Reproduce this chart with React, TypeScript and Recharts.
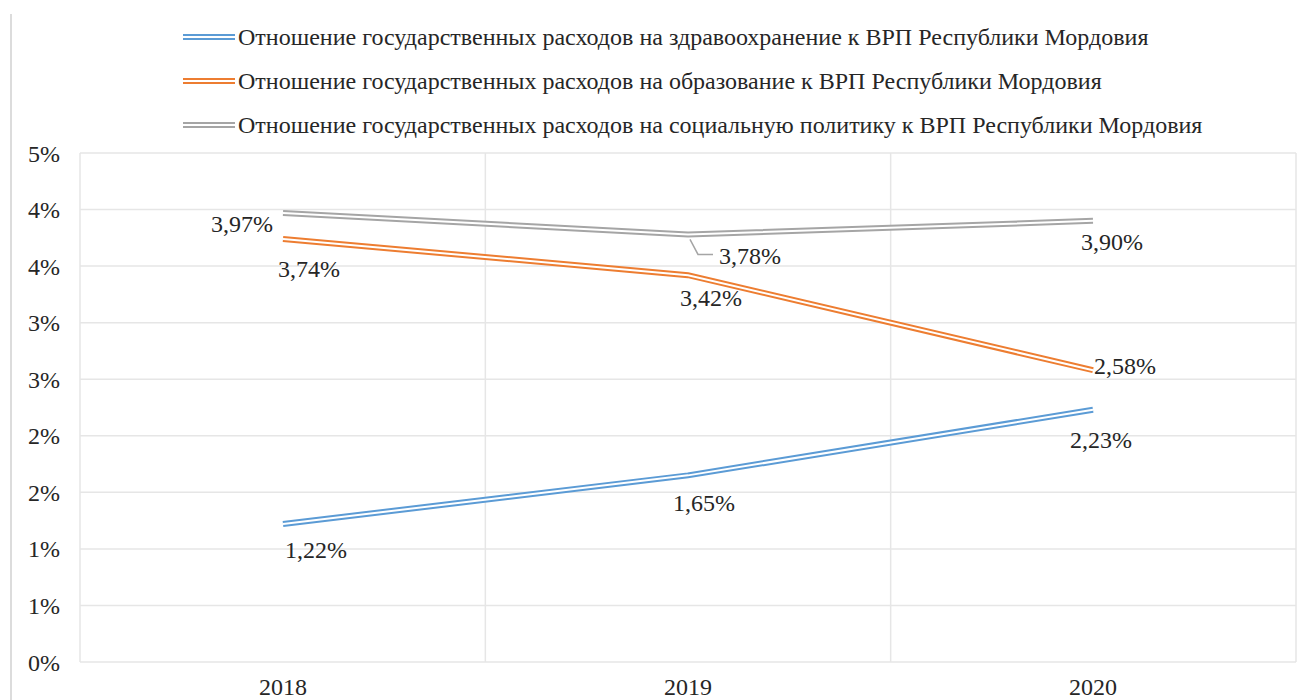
import { LineChart, Line, XAxis, YAxis, CartesianGrid, LabelList } from 'recharts';

const years = ['2018', '2019', '2020'];
const health = [1.22, 1.65, 2.23];
const education = [3.74, 3.42, 2.58];
const social = [3.97, 3.78, 3.9];
const yTicks = [0, 0.5, 1, 1.5, 2, 2.5, 3, 3.5, 4, 4.5];

const healthName = 'Отношение государственных расходов на здравоохранение к ВРП Республики Мордовия';
const educationName = 'Отношение государственных расходов на образование к ВРП Республики Мордовия';
const socialName = 'Отношение государственных расходов на социальную политику к ВРП Республики Мордовия';

const FONT = '"Liberation Serif", "Times New Roman", serif';
const TEXT = '#262626';
const FS = 24;

// label placement relative to each point (Excel labels were moved by hand)
const healthOffsets = [[33, 26], [16, 27], [8, 30]];
const educationOffsets = [[26, 30], [23, 22], [32, -5]];
const socialOffsets = [[-41, 11], [62, 21], [19, 21]];

const data = years.map((year, i) => ({
  year,
  health: health[i],
  education: education[i],
  social: social[i],
}));

const series = [
  { key: 'health', name: healthName, color: '#5B9BD5', offsets: healthOffsets },
  { key: 'education', name: educationName, color: '#ED7D31', offsets: educationOffsets },
  { key: 'social', name: socialName, color: '#A5A5A5', offsets: socialOffsets },
];

const fmt = (v: number) => v.toFixed(2).replace('.', ',') + '%';

function makeLabel(offsets: number[][], color: string, leader?: number) {
  return (props: any) => {
    const { x, y, value, index } = props;
    const [dx, dy] = offsets[index];
    return (
      <g>
        {leader === index && (
          <polyline
            points={`${x + 2},${y + 5} ${x + 10},${y + 20} ${x + dx - 37},${y + 20}`}
            fill="none"
            stroke={color}
            strokeWidth={1.5}
          />
        )}
        <text
          x={x + dx}
          y={y + dy}
          dy="0.35em"
          textAnchor="middle"
          fontFamily={FONT}
          fontSize={FS}
          fill={TEXT}
        >
          {fmt(value)}
        </text>
      </g>
    );
  };
}

function DoubleLineIcon({ color }: { color: string }) {
  return (
    <svg width={52} height={8} style={{ display: 'block' }}>
      <line x1={0} y1={4} x2={52} y2={4} stroke={color} strokeWidth={6} />
      <line x1={0} y1={4} x2={52} y2={4} stroke="#fff" strokeWidth={2} />
    </svg>
  );
}

function ChartLegend() {
  return (
    <div
      style={{
        position: 'absolute',
        top: 7,
        left: 175,
        fontFamily: FONT,
        fontSize: FS,
        color: TEXT,
      }}
    >
      {series.map((s) => (
        <div key={s.key} style={{ display: 'flex', alignItems: 'center', height: 44 }}>
          <DoubleLineIcon color={s.color} />
          <span style={{ marginLeft: 3, whiteSpace: 'nowrap' }}>{s.name}</span>
        </div>
      ))}
    </div>
  );
}

export default function App() {
  return (
    <div style={{ position: 'relative', width: 1304, height: 692 }}>
      <div
        style={{
          position: 'absolute',
          left: 2,
          top: 6,
          bottom: 0,
          borderLeft: '2px solid #dcdcdc',
        }}
      />
      <LineChart width={1304} height={692} data={data} margin={{ top: 145, right: 16, bottom: 0, left: 0 }}>
        <CartesianGrid
          stroke="#e6e6e6"
          strokeWidth={1.5}
          horizontalValues={yTicks}
          verticalCoordinatesGenerator={({ offset }: any) =>
            [0, 1, 2, 3].map((k) => offset.left + (offset.width * k) / years.length)
          }
        />
        <XAxis
          dataKey="year"
          padding={{ left: 203, right: 203 }}
          axisLine={false}
          tickLine={false}
          tickSize={0}
          tickMargin={16}
          height={38}
          tick={{ fontFamily: FONT, fontSize: FS, fill: TEXT }}
        />
        <YAxis
          domain={[0, 4.5]}
          ticks={yTicks}
          interval={0}
          axisLine={false}
          tickLine={false}
          tickSize={0}
          tickMargin={20}
          width={72}
          tickFormatter={(v: number) => Math.round(v) + '%'}
          tick={{ fontFamily: FONT, fontSize: FS, fill: TEXT }}
        />
        {series.flatMap((s) => [
          <Line
            key={s.key + '-outer'}
            type="linear"
            dataKey={s.key}
            name={s.name}
            stroke={s.color}
            strokeWidth={6}
            dot={false}
            activeDot={false}
            isAnimationActive={false}
          />,
          <Line
            key={s.key + '-inner'}
            type="linear"
            dataKey={s.key}
            legendType="none"
            stroke="#ffffff"
            strokeWidth={2}
            dot={false}
            activeDot={false}
            isAnimationActive={false}
          >
            <LabelList
              dataKey={s.key}
              content={makeLabel(s.offsets, s.color, s.key === 'social' ? 1 : undefined)}
            />
          </Line>,
        ])}
      </LineChart>
      <ChartLegend />
    </div>
  );
}
